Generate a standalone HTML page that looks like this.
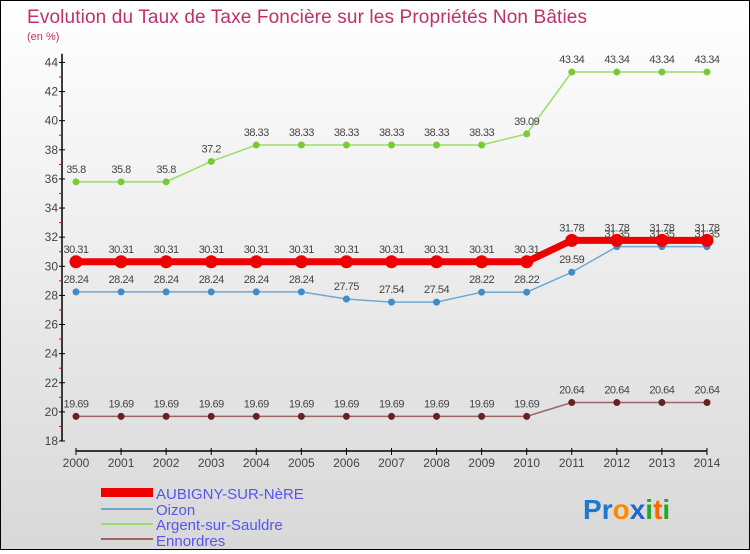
<!DOCTYPE html>
<html><head><meta charset="utf-8"><style>
html,body{margin:0;padding:0;}
body{width:750px;height:550px;overflow:hidden;font-family:"Liberation Sans",sans-serif;}
#wrap{position:relative;width:748px;height:548px;border:1px solid #000;background:linear-gradient(#ffffff,#d8d8d8);}
svg text{font-family:"Liberation Sans",sans-serif;}
</style></head><body>
<div id="wrap">
<svg id="chart" width="748" height="548">
<text x="26" y="22" font-size="19" fill="#c0306a" textLength="560">Evolution du Taux de Taxe Foncière sur les Propriétés Non Bâties</text>
<text x="26" y="39" font-size="11" fill="#c0306a">(en %)</text>
<g id="axes"></g><g id="series"></g>
<g>
<rect x="100" y="487" width="52" height="9" fill="#ee0000"/>
<text x="155" y="498" font-size="15" fill="#5555ee">AUBIGNY-SUR-NèRE</text>
<line x1="100" x2="152" y1="508" y2="508" stroke="#6fa8d0" stroke-width="2"/>
<text x="155" y="514" font-size="15" fill="#5555ee">Oizon</text>
<line x1="100" x2="152" y1="523" y2="523" stroke="#99dd66" stroke-width="2"/>
<text x="155" y="529" font-size="15" fill="#5555ee">Argent-sur-Sauldre</text>
<line x1="100" x2="152" y1="538" y2="538" stroke="#996666" stroke-width="2"/>
<text x="155" y="545" font-size="15" fill="#5555ee">Ennordres</text>
</g>
<g font-size="28" font-weight="bold">
<text x="582" y="518"><tspan fill="#2277cc">P</tspan><tspan fill="#2277cc">r</tspan><tspan fill="#ff8800">o</tspan><tspan fill="#2266cc">x</tspan><tspan fill="#22aa22">i</tspan><tspan fill="#ff6600">t</tspan><tspan fill="#22aa22">i</tspan></text>
</g>
</svg>
</div>
<script>
const years=[2000,2001,2002,2003,2004,2005,2006,2007,2008,2009,2010,2011,2012,2013,2014];
const aubigny=[30.31,30.31,30.31,30.31,30.31,30.31,30.31,30.31,30.31,30.31,30.31,31.78,31.78,31.78,31.78];
const oizon=[28.24,28.24,28.24,28.24,28.24,28.24,27.75,27.54,27.54,28.22,28.22,29.59,31.35,31.35,31.35];
const argent=[35.8,35.8,35.8,37.2,38.33,38.33,38.33,38.33,38.33,38.33,39.09,43.34,43.34,43.34,43.34];
const ennordres=[19.69,19.69,19.69,19.69,19.69,19.69,19.69,19.69,19.69,19.69,19.69,20.64,20.64,20.64,20.64];
const yTicks=[18,20,22,24,26,28,30,32,34,36,38,40,42,44];
const NS='http://www.w3.org/2000/svg';
const xS=i=>75+i*45.07;
const yS=v=>440-(v-18)*14.56;
function mk(t,a,p){const e=document.createElementNS(NS,t);for(const k in a)e.setAttribute(k,a[k]);p.appendChild(e);return e;}
const ax=document.getElementById('axes');
let e=mk('line',{x1:61,x2:61,y1:yS(44.6),y2:yS(18),stroke:'#000','stroke-width':1.5},ax);


for(let v=19;v<44;v+=2){e=mk('line',{x1:58,x2:61,y1:yS(v),y2:yS(v),stroke:'#e00'},ax);

}
yTicks.forEach(v=>{e=mk('line',{x1:58,x2:64,y1:yS(v),y2:yS(v),stroke:'#000'},ax);


e=mk('text',{x:57,y:yS(v)+4,'font-size':12,'text-anchor':'end',fill:'#444'},ax);e.textContent=v;

});
e=mk('line',{x1:xS(0),x2:xS(14),y1:450,y2:450,stroke:'#000','stroke-width':1.5},ax);


years.forEach((y,i)=>{e=mk('line',{x1:xS(i),x2:xS(i),y1:447,y2:454,stroke:'#000'},ax);


e=mk('text',{x:xS(i),y:466,'font-size':12,'text-anchor':'middle',fill:'#444'},ax);e.textContent=y;

});
const sg=document.getElementById('series');
function series(name,vals,color,dot,w,r){
 const g=mk('g',{},sg);
 
 
 const l=mk('polyline',{points:vals.map((v,i)=>xS(i)+','+yS(v)).join(' '),fill:'none',stroke:color,'stroke-width':w},g);
 
 
 vals.forEach((v,i)=>{const c=mk('circle',{cx:xS(i),cy:yS(v),r:r,fill:dot},g);
 
 
 const t=mk('text',{x:xS(i),y:yS(v)-9,'font-size':11,'text-anchor':'middle',fill:'#444','letter-spacing':'-0.5'},g);t.textContent=v;
 
 });
}
series('argent',argent,'#99dd66','#77cc33',1.5,3.5);
series('oizon',oizon,'#6fa8d0','#3d8ccc',1.5,3.5);
series('ennordres',ennordres,'#996666','#662222',1.5,3.5);
series('aubigny',aubigny,'#ee0000','#ee0000',7,6.5);
</script>
</body></html>
